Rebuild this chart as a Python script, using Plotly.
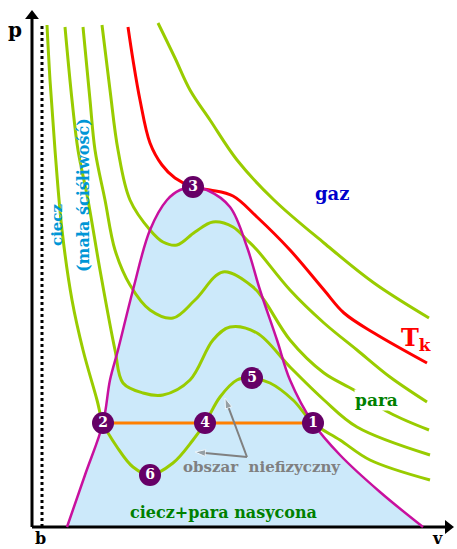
import plotly.graph_objects as go

# Van der Waals isotherms on a p-v diagram (arbitrary units)
v_iso1 = [15, 18, 23, 30, 40, 51, 65, 71, 85, 101, 118, 141, 161, 173, 188, 205, 220, 238, 261, 281, 308, 338, 398]
p_iso1 = [502, 447, 377, 297, 227, 177, 127, 104, 80, 60, 52, 64, 87, 104, 130, 147, 149, 144, 127, 104, 87, 67, 47]

v_iso2 = [33, 40, 46, 56, 68, 83, 91, 111, 131, 158, 181, 198, 225, 258, 292, 325, 398]
p_iso2 = [500, 427, 377, 327, 257, 177, 144, 134, 132, 147, 187, 200, 194, 160, 127, 100, 72]

v_iso3 = [51, 58, 63, 73, 83, 98, 118, 141, 163, 191, 221, 232, 258, 292, 322, 358, 397]
p_iso3 = [500, 427, 377, 327, 277, 242, 217, 209, 227, 255, 240, 227, 187, 154, 137, 114, 97]

v_iso4 = [70, 78, 86, 98, 118, 131, 145, 163, 181, 201, 215, 225, 258, 292, 325, 358, 395]
p_iso4 = [502, 437, 377, 327, 297, 285, 282, 295, 305, 300, 287, 277, 237, 204, 177, 150, 125]

v_crit = [96, 101, 108, 118, 130, 143, 161, 178, 201, 225, 258, 292, 312, 342, 395]
p_crit = [500, 467, 427, 384, 362, 349, 340, 337, 331, 310, 277, 237, 214, 194, 164]

v_iso5 = [126, 143, 158, 178, 205, 242, 292, 342, 397]
p_iso5 = [504, 469, 437, 407, 367, 327, 284, 244, 209]

# Saturation (coexistence) curve
v_dome = [35, 53, 71, 78, 86, 101, 118, 135, 148, 161, 175, 198, 215, 228, 245, 258, 281, 308, 348, 391]
p_dome = [0, 52, 104, 147, 177, 237, 297, 327, 337, 340, 337, 320, 280, 237, 187, 147, 104, 72, 35, 0]

# Numbered states
point_labels = ["1", "2", "3", "4", "5", "6"]
v_points = [281, 71, 161, 173, 220, 118]
p_points = [104, 104, 340, 104, 149, 52]

# Maxwell line (saturated vapour pressure)
v_maxwell = [71, 281]
p_maxwell = [104, 104]

# Excluded volume b
v_b = 10
p_b_top = 502

# Axis extents
v_axis_end = 420
p_axis_end = 515

# Pointer from the "obszar niefizyczny" caption into the unstable branches
v_pointer_tail = 215
p_pointer_tail = 70
v_pointer_heads = [193, 163]
p_pointer_heads = [129, 75]

GREEN = "#99cc00"
SERIF = "DejaVu Serif"

fig = go.Figure()

# filled two-phase region
fig.add_trace(go.Scatter(x=v_dome, y=p_dome, mode="lines", fill="toself",
                         fillcolor="rgb(204,233,250)",
                         line=dict(width=0, shape="spline", smoothing=1.0),
                         hoverinfo="skip"))

# dotted asymptote at v = b
fig.add_trace(go.Scatter(x=[v_b, v_b], y=[0, p_b_top], mode="lines",
                         line=dict(color="black", width=3, dash="dot")))

# axes with arrowheads
fig.add_trace(go.Scatter(x=[0, 0], y=[0, p_axis_end - 6], mode="lines",
                         line=dict(color="black", width=3)))
fig.add_trace(go.Scatter(x=[0, v_axis_end - 6], y=[0, 0], mode="lines",
                         line=dict(color="black", width=3)))
fig.add_trace(go.Scatter(x=[0], y=[p_axis_end - 4], mode="markers",
                         marker=dict(symbol="triangle-up", size=12, color="black")))
fig.add_trace(go.Scatter(x=[v_axis_end - 4], y=[0], mode="markers",
                         marker=dict(symbol="triangle-right", size=12, color="black")))

for vx, py in [(v_iso1, p_iso1), (v_iso2, p_iso2), (v_iso3, p_iso3),
               (v_iso4, p_iso4), (v_iso5, p_iso5)]:
    fig.add_trace(go.Scatter(x=vx, y=py, mode="lines",
                             line=dict(color=GREEN, width=3, shape="spline", smoothing=1.0)))

fig.add_trace(go.Scatter(x=v_crit, y=p_crit, mode="lines",
                         line=dict(color="#ff0000", width=3, shape="spline", smoothing=1.0)))

fig.add_trace(go.Scatter(x=v_dome, y=p_dome, mode="lines",
                         line=dict(color="#c8109e", width=2.5, shape="spline", smoothing=1.0)))

fig.add_trace(go.Scatter(x=v_maxwell, y=p_maxwell, mode="lines",
                         line=dict(color="#ff8000", width=3)))

# gray pointers
for hx, hy in zip(v_pointer_heads, p_pointer_heads):
    fig.add_trace(go.Scatter(x=[v_pointer_tail, hx], y=[p_pointer_tail, hy],
                             mode="lines+markers",
                             line=dict(color="#808080", width=2),
                             marker=dict(symbol="arrow", size=[0, 11], color="#808080",
                                         angleref="previous")))

fig.add_trace(go.Scatter(x=v_points, y=p_points, mode="markers+text",
                         text=[f"<b>{t}</b>" for t in point_labels],
                         textposition="middle center",
                         textfont=dict(family=SERIF, size=14, color="white"),
                         marker=dict(size=22, color="#660066")))

annotations = []


def label(text, x, y, size, color, angle=0, bg=None):
    d = dict(x=x, y=y, xref="x", yref="y", text=text, showarrow=False,
             font=dict(family=SERIF, size=size, color=color), textangle=angle)
    if bg:
        d["bgcolor"] = bg
        d["borderpad"] = 0
    annotations.append(d)


label("<b>p</b>", -17, 497, 20, "black")
label("<b>b</b>", 8, -11, 16, "black")
label("<b>v</b>", 405, -11, 16, "black")
label("<b>gaz</b>", 300, 334, 18, "#0000cc")
label("<b>T<sub>k</sub></b>", 384, 188, 24, "#ff0000")
label("<b>para</b>", 344, 127, 17, "#008000", bg="white")
label("<b>obszar  niefizyczny</b>", 230, 60, 15, "#808080")
label("<b>ciecz+para nasycona</b>", 191, 15, 16, "#008000")
label("<b>ciecz</b>", 25, 302, 15, "#0096d6", angle=-90)
label("<b>(mała ściśliwość)</b>", 51, 332, 16, "#0096d6", angle=-90)

fig.update_layout(
    width=457, height=549,
    margin=dict(l=0, r=0, t=0, b=0),
    paper_bgcolor="white", plot_bgcolor="white",
    showlegend=False,
    xaxis=dict(range=[-32, 425], visible=False, fixedrange=True),
    yaxis=dict(range=[-22, 527], visible=False, fixedrange=True),
    annotations=annotations,
)

fig.write_html("out.html")
